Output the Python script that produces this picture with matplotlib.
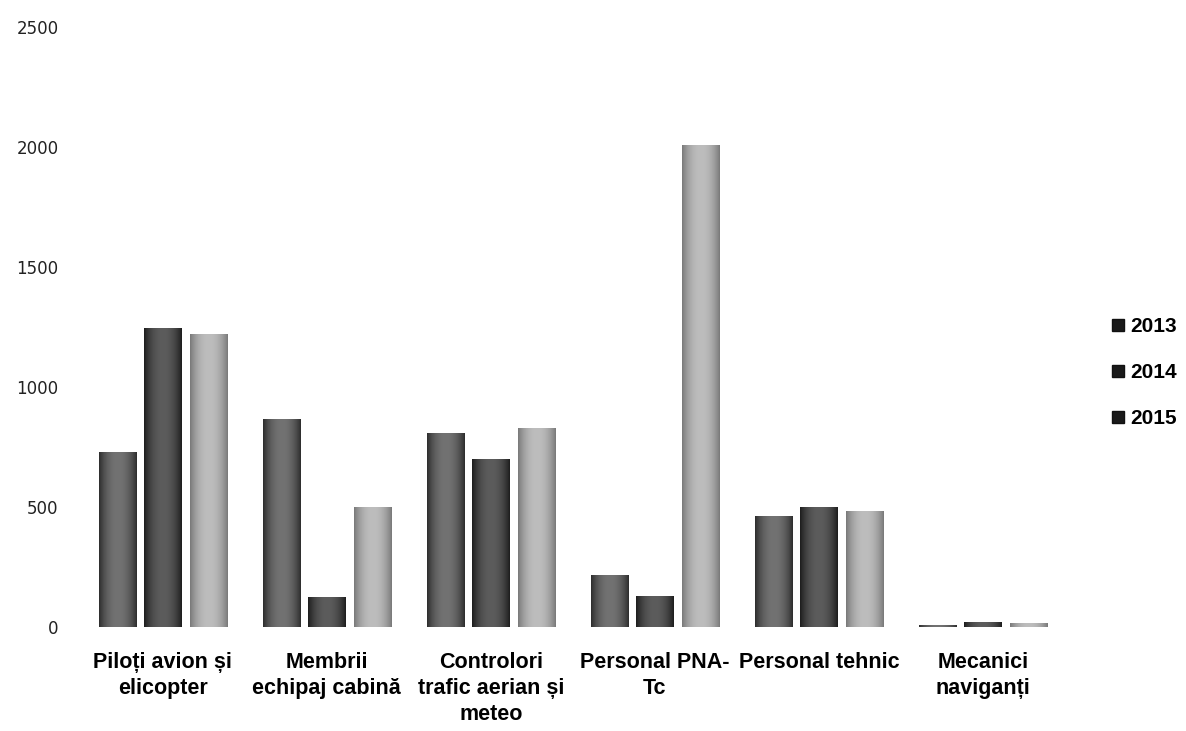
import numpy as np
import matplotlib
matplotlib.use("Agg")
import matplotlib.pyplot as plt
from matplotlib.patches import Patch

categories = ["Piloți avion și\nelicopter", "Membrii\nechipaj cabină",
              "Controlori\ntrafic aerian și\nmeteo", "Personal PNA-\nTc",
              "Personal tehnic", "Mecanici\nnaviganți"]
years = ["2013", "2014", "2015"]
v2013 = [730, 865, 808, 217, 463, 8]
v2014 = [1245, 125, 700, 130, 500, 20]
v2015 = [1220, 500, 829, 2010, 483, 18]
yticks = [0, 500, 1000, 1500, 2000, 2500]

# edge / centre grey of each series (cylinder look)
shades = [("#2e2e2e", "#727272"), ("#1e1e1e", "#5c5c5c"), ("#7a7a7a", "#bdbdbd")]

fig = plt.figure(figsize=(11.86, 7.31), dpi=100)
ax = fig.add_axes([0.068, 0.1423, 0.83, 0.8207])

x = np.arange(len(categories))
width = 0.226
step = 0.278


def grad(c1, c2):
    a = np.array(matplotlib.colors.to_rgb(c1))
    b = np.array(matplotlib.colors.to_rgb(c2))
    t = np.linspace(-1, 1, 64)
    w = 1 - np.abs(t) ** 2.2
    return (a[None, :] * (1 - w[:, None]) + b[None, :] * w[:, None])[None, :, :]


for k, vals in enumerate([v2013, v2014, v2015]):
    bars = ax.bar(x + (k - 1) * step, vals, width, color=shades[k][1],
                  edgecolor="none", label=years[k])
    img = grad(*shades[k])
    for p in bars:
        bx, by = p.get_x(), p.get_y()
        im = ax.imshow(img, extent=[bx, bx + p.get_width(), by, by + p.get_height()],
                       aspect="auto", zorder=3, interpolation="bilinear")
        im.set_clip_path(p)

ax.set_xlim(-0.5, len(categories) - 0.5)
ax.set_ylim(0, 2500)
ax.set_yticks(yticks)
ax.set_yticklabels([str(t) for t in yticks], fontsize=12, color="#222222")
ax.set_xticks(x)
ax.set_xticklabels(categories, fontsize=15.5, fontweight="bold",
                   family=["Liberation Sans", "DejaVu Sans"], linespacing=1.3)
ax.tick_params(axis="y", length=0, pad=16)
ax.tick_params(axis="x", length=0, pad=18)
for s in ax.spines.values():
    s.set_visible(False)

handles = [Patch(facecolor="#1a1a1a", edgecolor="#111111") for c in shades]
fig.legend(handles, years, loc="center left", bbox_to_anchor=(0.938, 0.49),
           frameon=False, borderpad=0, borderaxespad=0,
           handlelength=0.55, handleheight=0.55, handletextpad=0.3,
           labelspacing=1.3, prop={"family": "Liberation Sans", "weight": "bold", "size": 15})

fig.savefig("out.png", dpi=100, facecolor="white")
